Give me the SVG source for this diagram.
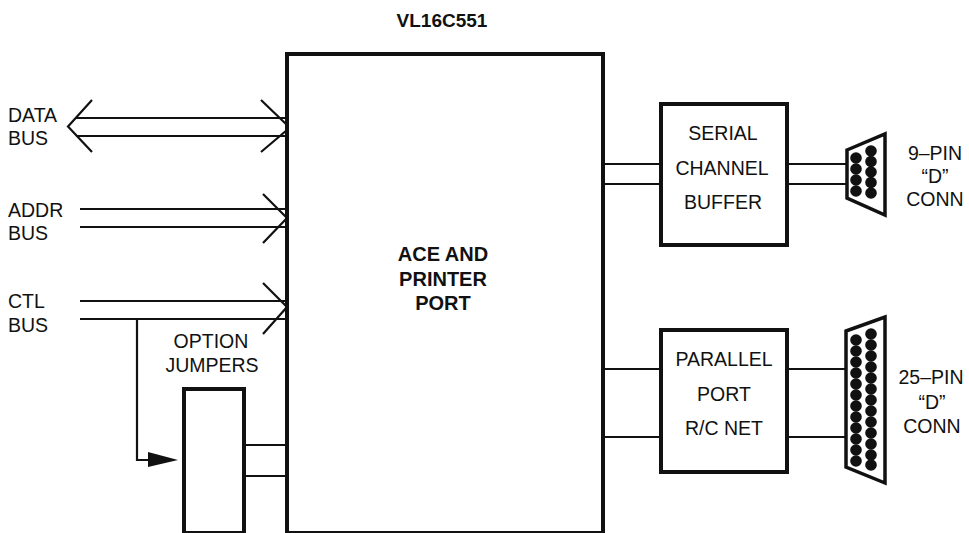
<svg xmlns="http://www.w3.org/2000/svg" width="969" height="533" viewBox="0 0 969 533">
<style>
text{font-family:"Liberation Sans",Arial,sans-serif;font-size:19.500px;fill:#111;text-anchor:middle}
text.l{text-anchor:start}
.b{font-weight:bold;font-size:20px}
.t{font-weight:bold;font-size:19px}
.box{fill:#fff;stroke:#111;stroke-width:4}
.w{fill:none;stroke:#111;stroke-width:2.2}
.c{fill:#fff;stroke:#111;stroke-width:3.500}
.d{fill:#111}
</style>
<rect width="969" height="533" fill="#fff"/>
<text class="t" x="442" y="27">VL16C551</text>
<g id="connectors">
<path class="w" d="M76 118H287M76 136H287M92 100L68 126.500L92 152M261 100L287 125M261 152L287 130"/>
<path class="w" d="M80 209H287M80 227H287M263 194L287 218L263 243"/>
<path class="w" d="M80 301H287M80 319H287M263 283L287 307L263 334"/>
<path class="w" d="M137 319V460H150"/>
<path d="M148 452L178 460L148 467Z" fill="#111"/>
<path class="w" d="M244 445H287M244 476H287"/>
<path class="w" d="M603 164H661M603 184H661M787 164H847M787 184H847"/>
<path class="w" d="M603 369H661M603 437H661M787 369H846M787 437H846"/>
</g>
<g id="main"><rect class="box" x="287" y="54" width="316" height="479"/>
<text class="b" x="443" y="261">ACE AND</text><text class="b" x="443" y="286">PRINTER</text><text class="b" x="443" y="310">PORT</text></g>
<g id="serial"><rect class="box" x="661" y="104" width="126" height="141"/>
<text x="723" y="140">SERIAL</text><text x="722" y="175">CHANNEL</text><text x="723" y="209">BUFFER</text></g>
<g id="parallel"><rect class="box" x="661" y="330" width="126" height="142"/>
<text x="724" y="366">PARALLEL</text><text x="724" y="401">PORT</text><text x="724" y="435">R/C NET</text></g>
<g id="jumpers"><rect class="box" x="184" y="389" width="60" height="144"/>
<text x="211" y="348">OPTION</text><text x="212" y="372">JUMPERS</text></g>
<g id="data-bus"><text class="l" x="8" y="122">DATA</text><text class="l" x="8" y="145">BUS</text></g>
<g id="addr-bus"><text class="l" x="8" y="217">ADDR</text><text class="l" x="8" y="240">BUS</text></g>
<g id="ctl-bus"><text class="l" x="8" y="308">CTL</text><text class="l" x="8" y="332">BUS</text></g>
<g id="conn9"><path class="c" d="M847 150L885 134V215L847 198Z"/>
<g class="d"><circle cx="856" cy="158" r="5.800"/><circle cx="856" cy="169" r="5.800"/><circle cx="856" cy="180" r="5.800"/><circle cx="856" cy="191" r="5.800"/>
<circle cx="871" cy="151" r="5.800"/><circle cx="871" cy="161.500" r="5.800"/><circle cx="871" cy="172" r="5.800"/><circle cx="871" cy="182.500" r="5.800"/><circle cx="871" cy="193" r="5.800"/></g>
<text x="935" y="160">9–PIN</text><text x="935" y="183">“D”</text><text x="935" y="206">CONN</text></g>
<g id="conn25"><path class="c" d="M846 331L885 317V483L846 467Z"/>
<g class="d"><circle cx="856" cy="340" r="5.800"/><circle cx="856" cy="351" r="5.800"/><circle cx="856" cy="362" r="5.800"/><circle cx="856" cy="373" r="5.800"/><circle cx="856" cy="384" r="5.800"/><circle cx="856" cy="395" r="5.800"/><circle cx="856" cy="406" r="5.800"/><circle cx="856" cy="417" r="5.800"/><circle cx="856" cy="428" r="5.800"/><circle cx="856" cy="439" r="5.800"/><circle cx="856" cy="450" r="5.800"/><circle cx="856" cy="461" r="5.800"/>
<circle cx="871" cy="334" r="5.800"/><circle cx="871" cy="345" r="5.800"/><circle cx="871" cy="356" r="5.800"/><circle cx="871" cy="367" r="5.800"/><circle cx="871" cy="378" r="5.800"/><circle cx="871" cy="389" r="5.800"/><circle cx="871" cy="400" r="5.800"/><circle cx="871" cy="411" r="5.800"/><circle cx="871" cy="422" r="5.800"/><circle cx="871" cy="433" r="5.800"/><circle cx="871" cy="444" r="5.800"/><circle cx="871" cy="455" r="5.800"/><circle cx="871" cy="465" r="5.800"/></g>
<text x="931" y="384">25–PIN</text><text x="932" y="409">“D”</text><text x="932" y="433">CONN</text></g>
</svg>
